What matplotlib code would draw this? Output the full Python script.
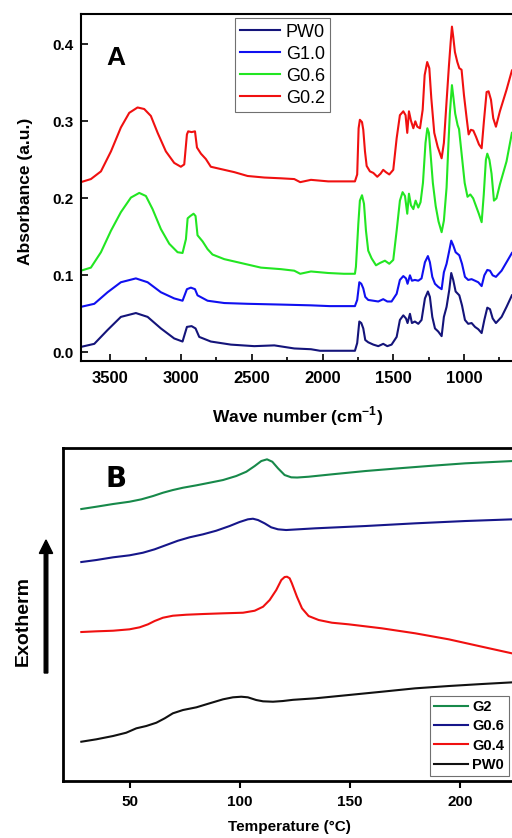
import matplotlib
matplotlib.use('Agg')
import matplotlib.pyplot as plt
from matplotlib.ticker import MultipleLocator

plt.rcParams['font.family'] = ['Liberation Sans', 'DejaVu Sans']
plt.rcParams['mathtext.fontset'] = 'custom'
plt.rcParams['mathtext.rm'] = 'Liberation Sans:bold'
plt.rcParams['mathtext.bf'] = 'Liberation Sans:bold'

# ---- Panel A: FTIR spectra (wave number, absorbance) ----

g02_wn = [3709, 3638, 3567, 3496, 3426, 3367, 3308, 3261, 3214, 3166, 3108, 3049,
          3002, 2978, 2959, 2950, 2926, 2902, 2888, 2860, 2825, 2790, 2719, 2624,
          2530, 2412, 2294, 2200, 2158, 2082, 1960, 1850, 1771, 1755, 1745, 1736,
          1721, 1712, 1700, 1688, 1665, 1641, 1613, 1590, 1571, 1552, 1528, 1500,
          1476, 1453, 1429, 1413, 1401, 1389, 1375, 1358, 1344, 1330, 1311, 1292,
          1278, 1260, 1245, 1231, 1210, 1186, 1158, 1142, 1123, 1106, 1094, 1085,
          1076, 1064, 1047, 1033, 1017, 1000, 981, 967, 951, 934, 915, 894, 875,
          859, 840, 826, 809, 793, 774, 746, 699, 661]
g02_abs = [0.221, 0.225, 0.235, 0.261, 0.292, 0.311, 0.318, 0.316, 0.307, 0.285, 0.261, 0.246,
           0.241, 0.244, 0.283, 0.287, 0.286, 0.287, 0.266, 0.258, 0.251, 0.241, 0.238, 0.234,
           0.229, 0.227, 0.226, 0.225, 0.221, 0.224, 0.222, 0.222, 0.222, 0.231, 0.291, 0.302,
           0.299, 0.289, 0.261, 0.242, 0.235, 0.233, 0.228, 0.232, 0.237, 0.234, 0.231, 0.237,
           0.278, 0.308, 0.313, 0.308, 0.285, 0.313, 0.301, 0.291, 0.300, 0.293, 0.291, 0.315,
           0.360, 0.377, 0.369, 0.330, 0.285, 0.267, 0.252, 0.272, 0.326, 0.373, 0.403, 0.423,
           0.410, 0.390, 0.377, 0.369, 0.367, 0.334, 0.304, 0.283, 0.289, 0.288, 0.280, 0.270, 0.265,
           0.300, 0.338, 0.339, 0.328, 0.304, 0.293, 0.313, 0.341, 0.366]

g06_wn = [3709, 3638, 3567, 3496, 3426, 3355, 3296, 3249, 3202, 3143, 3084, 3025,
          2990, 2966, 2954, 2935, 2912, 2898, 2884, 2848, 2813, 2778, 2695, 2577,
          2436, 2294, 2200, 2158, 2082, 1960, 1850, 1771, 1764, 1747, 1736, 1721,
          1707, 1693, 1677, 1653, 1622, 1594, 1559, 1528, 1500, 1476, 1453, 1434,
          1417, 1401, 1389, 1375, 1358, 1342, 1323, 1307, 1290, 1272, 1259, 1248,
          1235, 1220, 1200, 1180, 1158, 1142, 1123, 1110, 1100, 1085, 1074, 1062,
          1045, 1035, 1015, 995, 975, 955, 935, 915, 895, 875, 860, 845, 835, 820,
          805, 788, 770, 746, 699, 661]
g06_abs = [0.106, 0.110, 0.130, 0.158, 0.182, 0.201, 0.207, 0.203, 0.186, 0.160, 0.141, 0.130,
           0.129, 0.147, 0.174, 0.177, 0.180, 0.177, 0.152, 0.144, 0.134, 0.127, 0.121, 0.116,
           0.110, 0.108, 0.106, 0.102, 0.105, 0.103, 0.102, 0.102, 0.111, 0.167, 0.197, 0.204,
           0.193, 0.158, 0.132, 0.122, 0.113, 0.116, 0.119, 0.115, 0.120, 0.158, 0.197, 0.208,
           0.203, 0.180, 0.206, 0.191, 0.186, 0.197, 0.188, 0.195, 0.220, 0.272, 0.291, 0.285,
           0.255, 0.220, 0.190, 0.170, 0.156, 0.171, 0.214, 0.270, 0.310, 0.347, 0.330, 0.310,
           0.295, 0.290, 0.255, 0.220, 0.202, 0.205, 0.200, 0.190, 0.180, 0.169, 0.205, 0.250,
           0.258, 0.250, 0.232, 0.197, 0.200, 0.218, 0.248, 0.285]

g10_wn = [3709, 3614, 3520, 3426, 3320, 3237, 3143, 3049, 2990, 2959, 2931, 2902,
          2884, 2813, 2695, 2530, 2294, 2082, 1950, 1771, 1755, 1740, 1726, 1712,
          1698, 1677, 1641, 1606, 1571, 1542, 1512, 1476, 1453, 1429, 1410, 1399,
          1382, 1368, 1347, 1323, 1300, 1276, 1255, 1241, 1224, 1205, 1182, 1158,
          1142, 1123, 1104, 1090, 1076, 1059, 1033, 1014, 993, 970, 946, 922, 899,
          875, 856, 835, 816, 797, 774, 734, 699, 661]
g10_abs = [0.059, 0.063, 0.078, 0.091, 0.096, 0.091, 0.078, 0.070, 0.067, 0.082, 0.084, 0.082,
           0.074, 0.067, 0.064, 0.063, 0.062, 0.061, 0.060, 0.060, 0.068, 0.091, 0.089, 0.083,
           0.072, 0.068, 0.067, 0.066, 0.069, 0.066, 0.066, 0.076, 0.094, 0.099, 0.096, 0.089,
           0.100, 0.093, 0.094, 0.093, 0.096, 0.117, 0.125, 0.117, 0.098, 0.089, 0.085, 0.082,
           0.104, 0.115, 0.132, 0.145, 0.139, 0.130, 0.126, 0.115, 0.098, 0.094, 0.095, 0.093, 0.091,
           0.086, 0.100, 0.107, 0.106, 0.100, 0.098, 0.106, 0.117, 0.129]

pw0_wn = [3709, 3614, 3520, 3426, 3320, 3237, 3143, 3049, 2990, 2959, 2926, 2898,
          2872, 2790, 2648, 2483, 2341, 2200, 2082, 2018, 1900, 1771, 1755, 1740,
          1726, 1712, 1698, 1677, 1641, 1606, 1571, 1542, 1512, 1476, 1453, 1429,
          1410, 1399, 1382, 1368, 1347, 1323, 1300, 1276, 1255, 1241, 1224, 1205,
          1182, 1158, 1142, 1123, 1104, 1090, 1076, 1059, 1033, 1014, 993, 970, 946,
          922, 899, 875, 856, 835, 816, 797, 774, 734, 699, 661]
pw0_abs = [0.007, 0.011, 0.029, 0.046, 0.051, 0.046, 0.031, 0.018, 0.014, 0.033, 0.034, 0.031,
           0.020, 0.014, 0.010, 0.008, 0.009, 0.005, 0.004, 0.002, 0.002, 0.002, 0.012, 0.040,
           0.038, 0.031, 0.016, 0.013, 0.010, 0.008, 0.011, 0.008, 0.010, 0.020, 0.042, 0.048,
           0.044, 0.038, 0.050, 0.038, 0.040, 0.037, 0.042, 0.070, 0.079, 0.072, 0.046, 0.031,
           0.027, 0.021, 0.046, 0.059, 0.081, 0.103, 0.094, 0.079, 0.074, 0.061, 0.042, 0.037, 0.038,
           0.033, 0.030, 0.025, 0.042, 0.058, 0.056, 0.044, 0.038, 0.046, 0.059, 0.074]

# ---- Panel B: DSC curves (temperature, heat flow a.u.) ----

g2_t = [27.9, 34.7, 42.3, 49.8, 55.2, 60.5, 65.0, 69.5, 74.1, 80.2, 86.2, 92.3, 98.3,
        102.9, 106.7, 109.7, 112.3, 114.7, 117.3, 120.3, 123.3, 126.0, 131.2, 141.8,
        157.0, 172.1, 187.3, 202.4, 224.0]
g2_hf = [2.72, 2.743, 2.77, 2.793, 2.817, 2.85, 2.883, 2.91, 2.933, 2.957, 2.983, 3.01, 3.05,
         3.093, 3.15, 3.20, 3.217, 3.193, 3.127, 3.06, 3.037, 3.035, 3.043, 3.067,
         3.10, 3.127, 3.153, 3.177, 3.20]

g06b_t = [27.9, 34.7, 42.3, 49.8, 55.9, 61.2, 66.5, 71.8, 77.1, 83.2, 89.2, 95.3, 99.8,
          103.6, 105.9, 108.2, 111.2, 114.2, 117.3, 121.0, 134.2, 157.0, 179.7, 202.4, 224.0]
g06b_hf = [2.19, 2.21, 2.237, 2.257, 2.283, 2.317, 2.36, 2.403, 2.437, 2.467, 2.503, 2.55, 2.59,
           2.617, 2.623, 2.61, 2.577, 2.537, 2.517, 2.51, 2.527, 2.55, 2.577, 2.60, 2.617]

g04_t = [27.9, 34.7, 42.3, 49.8, 54.4, 58.2, 61.2, 65.0, 69.5, 75.6, 83.2, 92.3, 101.4,
         106.7, 110.5, 113.5, 116.5, 118.8, 120.3, 121.4, 122.6, 123.6, 125.9, 128.2,
         131.2, 135.8, 141.8, 149.4, 164.5, 179.7, 194.9, 210.0, 224.0]
g04_hf = [1.49, 1.497, 1.503, 1.517, 1.537, 1.567, 1.60, 1.633, 1.653, 1.663, 1.67, 1.677, 1.683,
          1.703, 1.743, 1.81, 1.91, 2.01, 2.04, 2.043, 2.027, 1.977, 1.843, 1.727,
          1.65, 1.61, 1.583, 1.567, 1.527, 1.477, 1.417, 1.343, 1.275]

pw0b_t = [27.9, 34.7, 42.3, 48.3, 52.9, 57.4, 62.0, 65.8, 69.5, 74.1, 80.2, 86.2, 92.3,
          96.8, 100.6, 103.6, 107.4, 110.5, 115.0, 119.5, 124.1, 134.2, 149.4, 164.5,
          179.7, 194.9, 210.0, 224.0]
pw0b_hf = [0.393, 0.417, 0.45, 0.483, 0.527, 0.55, 0.583, 0.627, 0.677, 0.71, 0.737, 0.777, 0.817,
           0.837, 0.843, 0.837, 0.81, 0.797, 0.793, 0.80, 0.812, 0.827, 0.86, 0.893,
           0.927, 0.95, 0.97, 0.987]

fig = plt.figure(figsize=(5.12, 8.38), dpi=100)

# Panel A
ax1 = fig.add_axes([0.1582, 0.5692, 0.8477, 0.4141])
ax1.plot(pw0_wn, pw0_abs, color='#14147a', lw=1.5, label='PW0')
ax1.plot(g10_wn, g10_abs, color='#1010f0', lw=1.5, label='G1.0')
ax1.plot(g06_wn, g06_abs, color='#22e622', lw=1.5, label='G0.6')
ax1.plot(g02_wn, g02_abs, color='#f01010', lw=1.5, label='G0.2')
ax1.set_xlim(3708, 639)
ax1.set_ylim(-0.0113, 0.4394)
ax1.xaxis.set_major_locator(MultipleLocator(500))
ax1.xaxis.set_minor_locator(MultipleLocator(250))
ax1.yaxis.set_major_locator(MultipleLocator(0.1))
ax1.tick_params(axis='both', which='both', direction='in', width=1.2)
ax1.tick_params(axis='both', which='major', length=5)
ax1.tick_params(axis='x', which='minor', length=3)
ax1.tick_params(axis='x', labelsize=12, pad=7)
ax1.tick_params(axis='y', labelsize=11, pad=5)
ax1.tick_params(top=False, right=False)
for lab in ax1.get_xticklabels() + ax1.get_yticklabels():
    lab.set_fontweight('bold')
for sp in ax1.spines.values():
    sp.set_linewidth(1.5)
ax1.set_xlabel('Wave number (cm$^{-1}$)', fontsize=12.5, fontweight='bold')
ax1.xaxis.set_label_coords(0.5, -0.125)
ax1.set_ylabel('Absorbance (a.u.)', fontsize=12.5, fontweight='bold')
ax1.yaxis.set_label_coords(-0.111, 0.49)
ax1.text(0.058, 0.853, 'A', transform=ax1.transAxes, fontsize=19, fontweight='bold',
         va='baseline')
leg1 = ax1.legend(loc='upper left', bbox_to_anchor=(0.355, 0.988), borderaxespad=0,
                  fontsize=13, handlelength=2.2, labelspacing=0.28, fancybox=False,
                  edgecolor='#707070', framealpha=1, borderpad=0.3, handletextpad=0.3)
leg1.get_frame().set_linewidth(0.8)

# Panel B
ax2 = fig.add_axes([0.1236, 0.0680, 0.8822, 0.3970])
ax2.plot(g2_t, g2_hf, color='#17894a', lw=1.5, label='G2')
ax2.plot(g06b_t, g06b_hf, color='#16168a', lw=1.5, label='G0.6')
ax2.plot(g04_t, g04_hf, color='#f01010', lw=1.5, label='G0.4')
ax2.plot(pw0b_t, pw0b_hf, color='#111111', lw=1.5, label='PW0')
ax2.set_xlim(19.7, 225)
ax2.set_ylim(0, 3.327)
ax2.xaxis.set_major_locator(MultipleLocator(50))
ax2.set_yticks([])
ax2.tick_params(axis='x', direction='out', length=5, width=1.5, labelsize=11, pad=5)
for lab in ax2.get_xticklabels():
    lab.set_fontweight('bold')
for sp in ax2.spines.values():
    sp.set_linewidth(2)
ax2.set_xlabel('Temperature (\u00b0C)', fontsize=11, fontweight='bold')
ax2.xaxis.set_label_coords(0.5, -0.118)
ax2.text(0.0945, 0.884, 'B', transform=ax2.transAxes, fontsize=20, fontweight='bold',
         va='baseline', family='DejaVu Sans')
leg2 = ax2.legend(loc='lower left', bbox_to_anchor=(0.812, 0.015), borderaxespad=0,
                  prop={'size': 10.5, 'weight': 'bold'}, handlelength=2.3,
                  labelspacing=0.35, fancybox=False, edgecolor='#707070', framealpha=1,
                  borderpad=0.3, handletextpad=0.3)
leg2.get_frame().set_linewidth(0.8)

# Exotherm label with arrow
fig.text(23 / 512, 1 - 621 / 838, 'Exotherm', rotation=90, fontsize=14,
         fontweight='bold', ha='center', va='center')
fig.patches.append(matplotlib.patches.FancyArrow(
    46 / 512, 1 - 673 / 838, 0, (673 - 540) / 838, width=0.007, head_width=0.026,
    head_length=0.016, length_includes_head=True, color='black',
    transform=fig.transFigure, figure=fig))

fig.savefig('out.png', dpi=100)
